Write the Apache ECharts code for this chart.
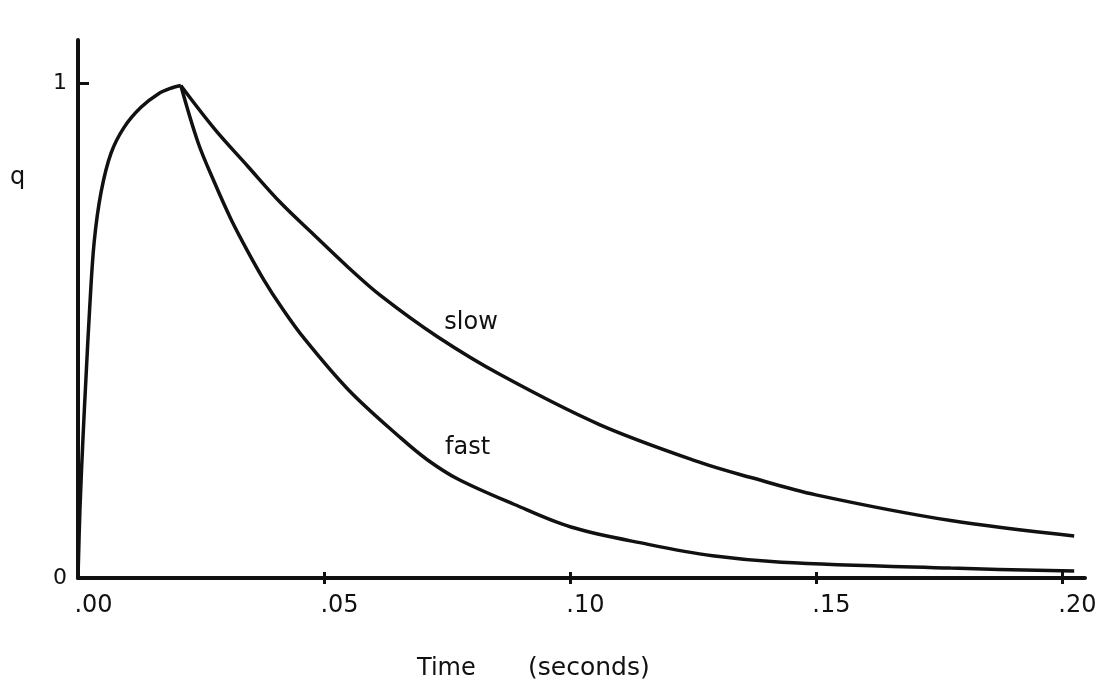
<!DOCTYPE html>
<html>
<head>
<meta charset="utf-8">
<script src="https://cdn.jsdelivr.net/npm/echarts@6/dist/echarts.min.js"></script>
<style>
  html, body { margin: 0; padding: 0; background: #fff; }
  #chart { width: 1099px; height: 683px; }
</style>
</head>
<body>
<div id="chart"></div>
<script>
// Rising phase shared by both responses (time in s, normalised q)
const riseT = [0, 0.0004, 0.0010, 0.0016, 0.0024, 0.0033, 0.0047, 0.0067, 0.0094, 0.0128, 0.0163, 0.0190, 0.0209];
const riseQ = [0, 0.14, 0.28, 0.40, 0.55, 0.68, 0.78, 0.858, 0.911, 0.951, 0.978, 0.99, 0.995];

// Slow decay after the peak
const slowT = [0.0209, 0.0277, 0.0345, 0.0413, 0.0480, 0.0549, 0.0616, 0.0730, 0.0860, 0.1060, 0.1266, 0.1368, 0.1500, 0.1774, 0.2025];
const slowQ = [0.995, 0.908, 0.832, 0.757, 0.693, 0.628, 0.570, 0.488, 0.410, 0.310, 0.233, 0.203, 0.168, 0.116, 0.085];

// Fast decay after the peak
const fastT = [0.0209, 0.0244, 0.0277, 0.0311, 0.0345, 0.0378, 0.0413, 0.0459, 0.0550, 0.0656, 0.0710, 0.0772, 0.0886, 0.1002, 0.1159, 0.1290, 0.1430, 0.1774, 0.2025];
const fastQ = [0.995, 0.88, 0.80, 0.725, 0.66, 0.602, 0.548, 0.485, 0.38, 0.283, 0.239, 0.20, 0.149, 0.103, 0.068, 0.045, 0.032, 0.020, 0.014];

// Axis ticks and labels
const xTickValues = [0, 0.05, 0.10, 0.15, 0.20];
const xTickLabels = ['.00', '.05', '.10', '.15', '.20'];
const yTickValues = [0, 1];
const yTickLabels = ['0', '1'];

// Curve annotations: [time, q, text]
const slowNote = [0.0799, 0.515, 'slow'];
const fastNote = [0.0792, 0.263, 'fast'];

const FONT = '"DejaVu Sans", sans-serif';
const INK = '#111';

const pairs = (t, q) => t.map((v, i) => [v, q[i]]);

function note(n) {
  return {
    symbol: 'circle',
    symbolSize: 1,
    itemStyle: { color: 'rgba(0,0,0,0)' },
    label: {
      show: true, position: 'inside', color: INK,
      fontFamily: FONT, fontSize: 24, formatter: n[2]
    },
    data: [{ coord: [n[0], n[1]] }]
  };
}

const lineStyle = { color: INK, width: 3.5 };
const curve = { type: 'line', showSymbol: false, smooth: 0.35, lineStyle, z: 3 };
const chart = echarts.init(document.getElementById('chart'), null, { renderer: 'canvas' });

chart.setOption({
  backgroundColor: '#fff',
  animation: false,
  grid: { left: 78, right: 14, top: 40, bottom: 105, containLabel: false, outerBoundsMode: 'none' },
  xAxis: [
    {
      type: 'value', min: 0, max: 0.2047,
      axisLine: { show: true, onZero: false, lineStyle: { color: INK, width: 4 } },
      splitLine: { show: false },
      axisTick: {
        show: true, inside: false, length: 6,
        customValues: xTickValues.slice(1),
        lineStyle: { color: INK, width: 3 }
      },
      axisLabel: {
        show: true, margin: 16, align: 'center',
        customValues: xTickValues,
        color: INK, fontFamily: FONT, fontSize: 24,
        formatter: (v) => {
          const i = xTickValues.findIndex(x => Math.abs(x - v) < 1e-9);
          return '{p| }' + (i >= 0 ? xTickLabels[i] : '');
        },
        rich: { p: { width: 31, fontSize: 24, fontFamily: FONT } }
      }
    },
    {
      type: 'value', min: 0, max: 0.2047, position: 'bottom',
      axisLine: { show: false },
      splitLine: { show: false },
      axisLabel: { show: false },
      axisTick: {
        show: true, inside: true, length: 6,
        customValues: xTickValues.slice(1),
        lineStyle: { color: INK, width: 3 }
      }
    }
  ],
  yAxis: {
    type: 'value', min: 0, max: 1.087,
    axisLine: { show: true, onZero: false, lineStyle: { color: INK, width: 4 } },
    splitLine: { show: false },
    axisTick: {
      show: true, inside: true, length: 11,
      customValues: [1],
      lineStyle: { color: INK, width: 3 }
    },
    axisLabel: {
      show: true, margin: 11,
      customValues: yTickValues,
      color: INK, fontFamily: FONT, fontSize: 22,
      formatter: (v) => {
        const i = yTickValues.findIndex(y => Math.abs(y - v) < 1e-9);
        return i >= 0 ? yTickLabels[i] : '';
      }
    }
  },
  graphic: [
    { type: 'text', left: 10, top: 166, style: { text: 'q', fill: INK, font: '24px ' + FONT } },
    { type: 'text', left: 417, top: 657, style: { text: 'Time', fill: INK, font: '24px ' + FONT } },
    { type: 'text', left: 528, top: 656, style: { text: '(seconds)', fill: INK, font: '25px ' + FONT } }
  ],
  series: [
    Object.assign({ name: 'rise', data: pairs(riseT, riseQ) }, curve),
    Object.assign({ name: 'slow', data: pairs(slowT, slowQ), markPoint: note(slowNote) }, curve),
    Object.assign({ name: 'fast', data: pairs(fastT, fastQ), markPoint: note(fastNote) }, curve)
  ]
});
</script>
</body>
</html>
